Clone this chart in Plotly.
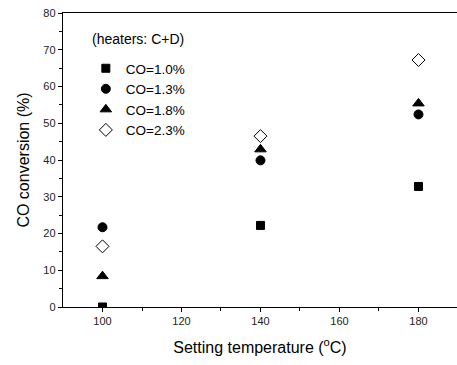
import plotly.graph_objects as go

# Setting temperature (°C)
temperature = [100, 140, 180]

# CO conversion (%) for each inlet CO concentration
conv_co_10 = [0.0, 22.2, 32.8]
conv_co_13 = [21.7, 39.9, 52.4]
conv_co_18 = [8.4, 42.9, 55.4]
conv_co_23 = [16.5, 46.5, 67.2]

series_names = ["CO=1.0%", "CO=1.3%", "CO=1.8%", "CO=2.3%"]
series_values = [conv_co_10, conv_co_13, conv_co_18, conv_co_23]
series_symbols = ["square", "circle", "triangle-up", "diamond-open"]
series_sizes = [8, 9, 10, 10]

font_family = "Liberation Sans, Arial, sans-serif"

fig = go.Figure()
for name, vals, sym, sz in zip(series_names, series_values, series_symbols, series_sizes):
    fig.add_trace(go.Scatter(
        x=temperature, y=vals, mode="markers", name=name, cliponaxis=True,
        marker=dict(symbol=sym, size=sz, color="black",
                    line=dict(color="black", width=1)),
    ))

fig.add_annotation(
    x=0.0685, y=0.9105, xref="paper", yref="paper", xanchor="left", yanchor="middle",
    text="(heaters: C+D)", showarrow=False,
    font=dict(family=font_family, size=14, color="black"),
)

fig.update_layout(
    width=457, height=365,
    margin=dict(l=63, r=0, t=13, b=58),
    paper_bgcolor="white", plot_bgcolor="white",
    font=dict(family=font_family, color="black"),
    showlegend=True,
    legend=dict(
        x=0.058, y=0.864, xanchor="left", yanchor="top",
        bgcolor="rgba(0,0,0,0)", font=dict(size=13.5, family=font_family),
        itemwidth=30, tracegroupgap=0,
    ),
    xaxis=dict(
        range=[90, 189.75], tickvals=[100, 120, 140, 160, 180],
        ticks="outside", ticklen=4, tickwidth=1, tickcolor="black",
        minor=dict(tickvals=[110, 130, 150, 170], ticks="outside", ticklen=3, tickcolor="black"),
        showline=True, linecolor="black", linewidth=1.4, mirror=True,
        showgrid=False, zeroline=False,
        tickfont=dict(size=11, color="#222222"),
        title=dict(text="Setting temperature (<sup>o</sup>C)", font=dict(size=16), standoff=15),
    ),
    yaxis=dict(
        range=[0, 80], tickvals=[0, 10, 20, 30, 40, 50, 60, 70, 80],
        ticks="outside", ticklen=4, tickwidth=1, tickcolor="black",
        minor=dict(tickvals=[5, 15, 25, 35, 45, 55, 65, 75], ticks="outside", ticklen=3, tickcolor="black"),
        showline=True, linecolor="black", linewidth=1.4,
        showgrid=False, zeroline=False,
        tickfont=dict(size=11, color="#222222"),
        title=dict(text="CO conversion (%)", font=dict(size=16), standoff=9),
    ),
)

fig.write_html("out.html")
